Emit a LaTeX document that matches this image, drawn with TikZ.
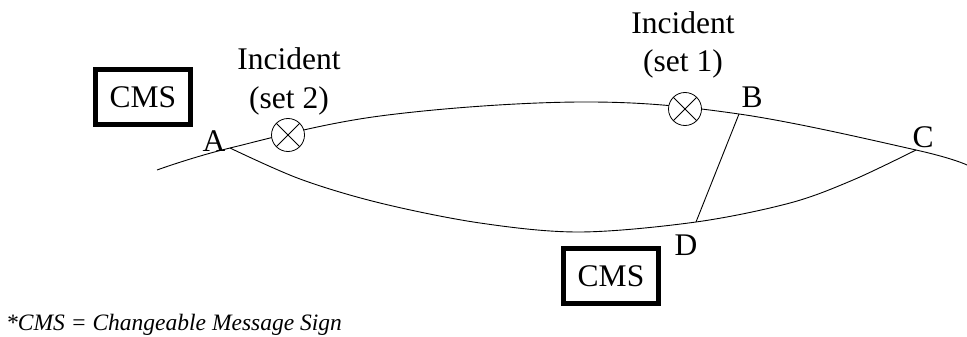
\documentclass[tikz,border=0pt]{standalone}
\usepackage{fontspec}
\setmainfont{Liberation Serif}
\begin{document}
\begin{tikzpicture}[x=1pt,y=-1pt,
  lbl/.style={font=\fontsize{31.5}{38}\selectfont, anchor=base, inner sep=0pt},
  cms/.style={draw, line width=5pt, minimum width=95pt, minimum height=55pt, font=\fontsize{31.5}{38}\selectfont, inner sep=0pt},
  inc/.style={draw, circle, line width=0.8pt, minimum size=33pt, inner sep=0pt, path picture={\draw[line width=0.8pt] (path picture bounding box.north west) -- (path picture bounding box.south east) (path picture bounding box.north east) -- (path picture bounding box.south west);}},
  road/.style={line width=0.9pt}]
\useasboundingbox (0,0) rectangle (967,337);
% junctions
\coordinate (A) at (230,148);
\coordinate (B) at (739,114);
\coordinate (C) at (916,150);
\coordinate (D) at (696,222);
\coordinate (W) at (157,170);
\coordinate (E) at (967,165);
% roads
\draw[road] plot[smooth, tension=0.6] coordinates {(W) (A) (380,116) (580,102) (B) (C) (E)};
\draw[road] plot[smooth, tension=0.55] coordinates {(A) (300,179) (380,203) (480,223) (580,232) (D) (790,203) (853,180) (C)};
\draw[road] (B) -- (D);
% incidents
\node[inc, fill=white] (i2) at (288,135) {};
\node[inc, fill=white] (i1) at (685,109) {};
\node[lbl] (t2a) at (289,70) {Incident};
\node[lbl] (t2b) at (289,108) {(set 2)};
\node[lbl] (t1a) at (683,34) {Incident};
\node[lbl] (t1b) at (683,72) {(set 1)};
% point labels
\node[lbl] (lA) at (214,151) {A};
\node[lbl] (lB) at (752,107) {B};
\node[lbl] (lC) at (923,147) {C};
\node[lbl] (lD) at (686,255) {D};
% CMS
\node[cms] (cms1) at (143,97) {CMS};
\node[cms] (cms2) at (611,276) {CMS};
% footnote
\node[anchor=base west, inner sep=0pt, font=\fontsize{23.5}{28}\selectfont\itshape] (fn) at (6,330) {*CMS = Changeable Message Sign};
\end{tikzpicture}
\end{document}
